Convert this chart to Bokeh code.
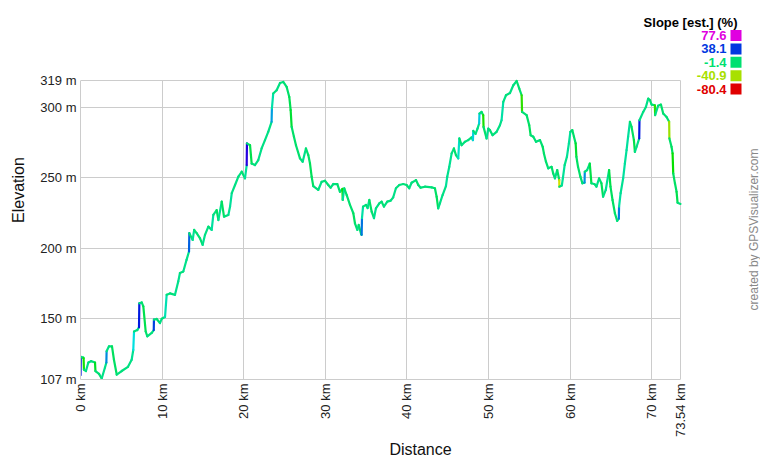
import math
import colorsys
from bokeh.plotting import figure
from bokeh.models import Label, BoxAnnotation, FixedTicker, Range1d
from bokeh.embed import file_html
from bokeh.resources import INLINE

# ---- data ----
distance_km = [0.00, 0.03, 0.34, 0.38, 0.42, 0.67, 0.96, 1.29, 1.78, 1.83, 2.27, 2.6, 3.0, 3.17, 3.2,
               3.49, 3.86, 4.1, 4.44, 5.05, 5.82, 6.27, 6.47, 6.56, 6.96, 7.17, 7.21, 7.5, 7.7, 7.99,
               8.19, 8.73, 8.98, 9.0, 9.34, 9.74, 9.95, 10.36, 10.56, 10.97, 11.58, 11.98, 12.19, 12.6,
               13.0, 13.3, 13.34, 13.75, 13.93, 14.24, 14.65, 14.97, 15.26, 15.67, 16.08, 16.28, 16.69,
               16.9, 17.31, 17.59, 18.12, 18.33, 18.54, 18.94, 19.35, 19.76, 20.16, 20.37, 20.4, 20.78,
               20.98, 21.38, 21.79, 22.2, 22.61, 23.01, 23.42, 23.46, 23.62, 24.04, 24.45, 24.85, 25.27,
               25.59, 25.76, 25.88, 26.16, 26.41, 26.9, 27.23, 27.63, 27.92, 28.13, 28.33, 28.53, 29.14,
               29.55, 29.96, 30.37, 30.66, 30.99, 31.48, 31.8, 32.1, 32.14, 32.33, 32.63, 33.03, 33.44,
               33.64, 33.93, 34.1, 34.4, 34.46, 34.5, 34.63, 34.99, 35.19, 35.4, 35.69, 35.97, 36.21,
               36.62, 36.91, 37.19, 37.6, 38.02, 38.33, 38.66, 39.07, 39.56, 39.97, 40.29, 40.58, 41.12,
               41.4, 41.69, 42.22, 43.04, 43.44, 43.65, 43.84, 44.05, 44.38, 44.79, 44.95, 45.2, 45.49,
               45.77, 46.02, 46.3, 46.43, 46.71, 47.12, 47.52, 47.93, 48.1, 48.14, 48.42, 48.66, 48.86,
               48.9, 49.16, 49.36, 49.4, 49.77, 49.98, 50.18, 50.51, 51.0, 51.41, 51.61, 51.82, 52.15,
               52.64, 53.05, 53.46, 53.78, 54.07, 54.12, 54.68, 55.0, 55.17, 55.5, 55.83, 56.32, 56.65,
               56.8, 57.05, 57.33, 57.74, 57.94, 58.15, 58.43, 58.68, 58.69, 59.0, 59.12, 59.34, 59.62,
               59.86, 60.04, 60.28, 60.48, 60.69, 60.78, 60.98, 61.27, 61.52, 61.78, 61.81, 62.09, 62.42,
               62.62, 63.03, 63.24, 63.56, 63.85, 64.05, 64.38, 64.54, 64.79, 64.96, 65.21, 65.5, 65.78,
               65.98, 66.01, 66.2, 66.51, 66.72, 66.93, 67.12, 67.34, 67.54, 67.83, 67.95, 68.16, 68.48,
               68.51, 68.97, 69.3, 69.58, 69.79, 70.0, 70.4, 70.43, 70.8, 71.14, 71.42, 71.83, 72.15,
               72.18, 72.44, 72.57, 72.65, 72.86, 73.06, 73.18, 73.54]
elevation_m = [110, 123, 122.5, 122, 114, 113, 119, 120, 119, 113, 111, 107.7, 115.5, 119, 127,
               130.5, 130.5, 121, 110.5, 113, 116, 121, 128, 141, 142, 144, 161, 161.6, 158.8, 141,
               137.6, 140, 142, 149.4, 149.9, 147, 150, 151.3, 167, 168, 167, 176.5, 182.4, 183.5,
               191.8, 197.7, 210.7, 205.9, 213, 210.7, 207, 202.4, 209.5, 215.3, 213, 223.6, 227,
               220, 233, 222.4, 223.6, 229.5, 239, 244.8, 250.7, 254.2, 249.5, 258.9, 274.3, 273,
               260, 258.9, 262.5, 270.7, 276.6, 282.5, 289.6, 299, 309.6, 312, 317.1, 317.8, 314.3,
               307.2, 297.8, 286, 279, 273, 263.7, 261.3, 270.7, 266, 260, 250.7, 244, 241.3,
               247, 247.8, 244.8, 242.9, 245.5, 245.5, 240, 242, 234.2, 242.5, 237.7, 230.7, 224.8,
               217.7, 213, 216.5, 210, 209.5, 221.3, 229.5, 230.7, 228.5, 234.2, 225.9, 221.3, 228.3,
               231.8, 233, 229.5, 233, 233.7, 236.1, 242.5, 244.8, 245.5, 244.8, 242.5, 246.4, 248.3,
               244.8, 242.9, 243.6, 243.1, 242.5, 236.5, 228.3, 231.8, 237.7, 244, 250.7, 257.7, 267.2,
               270.7, 266, 263.7, 277.8, 273, 275.4, 276.6, 278.5, 276.6, 283.2, 281, 284.8, 288.4,
               295.4, 296.6, 294.3, 286, 277.8, 284.8, 283.7, 280.1, 282.5, 287.2, 290.7, 303.7, 308.4,
               310, 315.5, 318.5, 313.1, 308.4, 296.6, 294.3, 287.2, 280.1, 279, 275.4, 276.6, 271.9,
               267.2, 261.3, 256.6, 257.7, 253, 249.5, 255.4, 248.3, 243.6, 244.5, 249.5, 258.9, 264.8,
               274.3, 282.5, 283.7, 279, 274.3, 264.8, 257.7, 250.7, 246, 246.5, 254.2, 255.4, 260,
               246, 245.3, 243.6, 249.5, 246, 236.5, 241.3, 247, 255.4, 243.6, 234.2, 224.8, 219.4,
               221, 229.5, 239, 249.5, 260, 269.5, 279, 289.6, 286, 276.6, 268.3, 271.9, 277.8,
               290.7, 296.6, 300.1, 306, 304.9, 301.8, 301.3, 294.3, 301, 301.8, 295.4, 293, 289.6,
               277.8, 271.9, 267.2, 253, 246, 240, 232.3, 231.4]

x_ticks = [0, 10, 20, 30, 40, 50, 60, 70, 73.54]
x_tick_labels = ["0 km", "10 km", "20 km", "30 km", "40 km", "50 km", "60 km", "70 km", "73.54 km"]
y_ticks = [107, 150, 200, 250, 300, 319]
y_tick_labels = ["107 m", "150 m", "200 m", "250 m", "300 m", "319 m"]

legend_title = "Slope [est.] (%)"
legend_values = [77.6, 38.1, -1.4, -40.9, -80.4]
legend_labels = ["77.6", "38.1", "-1.4", "-40.9", "-80.4"]
credit = "created by GPSVisualizer.com"


def slope_color(s):
    hue = 150 + (s + 1.4) * 75.0 / 39.5
    hue = min(max(hue, 0.0), 300.0)
    r, g, b = colorsys.hsv_to_rgb(hue / 360.0, 1.0, 0.88)
    return "#%02x%02x%02x" % (round(r * 255), round(g * 255), round(b * 255))


x0 = distance_km[:-1]
x1 = distance_km[1:]
y0 = elevation_m[:-1]
y1 = elevation_m[1:]
slopes = [(b1 - b0) / ((a1 - a0) * 1000.0) * 100.0 for a0, a1, b0, b1 in zip(x0, x1, y0, y1)]
colors = [slope_color(s) for s in slopes]

# ---- layout: canvas 760x460, data area 600x300 at (80, 80) ----
W, H = 760, 460
LEFT, BOTTOM = 80, 80
AREA_W, AREA_H = 600, 300
x_lo, x_hi = x_ticks[0], x_ticks[-1]
y_lo, y_hi = y_ticks[0], y_ticks[-1]
frame_w = W - LEFT
frame_h = H - BOTTOM
# the frame extends to the right and top edges so the side texts stay visible
x_end = x_lo + (x_hi - x_lo) * frame_w / AREA_W
y_end = y_lo + (y_hi - y_lo) * frame_h / AREA_H

p = figure(width=W, height=H, output_backend="svg", toolbar_location=None,
           x_range=Range1d(x_lo, x_end), y_range=Range1d(y_lo, y_end),
           min_border_left=LEFT, min_border_right=0, min_border_top=0, min_border_bottom=BOTTOM)
p.background_fill_color = "white"
p.border_fill_color = "white"
p.outline_line_color = None

GRID = "#cccccc"
grid_ok = "cross_bounds" in p.xgrid[0].properties()
if grid_ok:
    p.xgrid.grid_line_color = GRID
    p.ygrid.grid_line_color = GRID
    p.xgrid.cross_bounds = (y_lo, y_hi)
    p.ygrid.cross_bounds = (x_lo, x_hi)
else:
    p.xgrid.grid_line_color = None
    p.ygrid.grid_line_color = None
    p.segment(x0=x_ticks, y0=[y_lo] * len(x_ticks), x1=x_ticks, y1=[y_hi] * len(x_ticks),
              line_color=GRID, line_width=1)
    p.segment(x0=[x_lo] * len(y_ticks), y0=y_ticks, x1=[x_hi] * len(y_ticks), y1=y_ticks,
              line_color=GRID, line_width=1)

p.segment(x0=x0, y0=y0, x1=x1, y1=y1, line_color=colors, line_width=2.2, line_cap="round")

FONT = "Liberation Sans"
for ax, ticks, labels in ((p.xaxis[0], x_ticks, x_tick_labels), (p.yaxis[0], y_ticks, y_tick_labels)):
    ax.ticker = FixedTicker(ticks=ticks)
    ax.major_label_overrides = {t: l for t, l in zip(ticks, labels)}
    ax.bounds = (ticks[0], ticks[-1])
    ax.axis_line_color = GRID
    ax.major_tick_line_color = None
    ax.minor_tick_line_color = None
    ax.major_tick_out = 0
    ax.major_tick_in = 0
    ax.major_label_standoff = 4
    ax.major_label_text_font = FONT
    ax.major_label_text_font_size = "13px"
    ax.major_label_text_color = "#222222"
    ax.axis_label_text_font = FONT
    ax.axis_label_text_font_size = "16px"
    ax.axis_label_text_font_style = "normal"
    ax.axis_label_text_color = "#111111"
p.xaxis.major_label_orientation = math.pi / 2
p.xaxis.axis_label = "Distance"
p.xaxis.axis_label_standoff = 1
p.yaxis.axis_label = "Elevation"
p.yaxis.axis_label_standoff = 10

# credit (canvas pixels, y from top)
p.add_layout(Label(x=753, y=229, x_units="canvas", y_units="canvas", text=credit,
                   angle=math.pi / 2, text_align="center", text_baseline="middle", text_font=FONT,
                   text_font_size="12px", text_color="#888888"))
# slope legend
p.add_layout(Label(x=737, y=22, x_units="canvas", y_units="canvas", text=legend_title,
                   text_align="right", text_baseline="middle", text_font=FONT, text_font_size="13px",
                   text_font_style="bold", text_color="#000000"))
for i, (v, lab) in enumerate(zip(legend_values, legend_labels)):
    cy = 35 + i * 13.4
    c = slope_color(v)
    p.add_layout(Label(x=726, y=cy, x_units="canvas", y_units="canvas", text=lab,
                       text_align="right", text_baseline="middle", text_font=FONT, text_font_size="13px",
                       text_font_style="bold", text_color=c))
    p.add_layout(BoxAnnotation(left=730, right=741, top=cy - 5.5, bottom=cy + 5.5,
                               left_units="canvas", right_units="canvas",
                               bottom_units="canvas", top_units="canvas",
                               fill_color=c, fill_alpha=1.0, line_color=None))

open("out.html", "w").write(file_html(p, INLINE))
